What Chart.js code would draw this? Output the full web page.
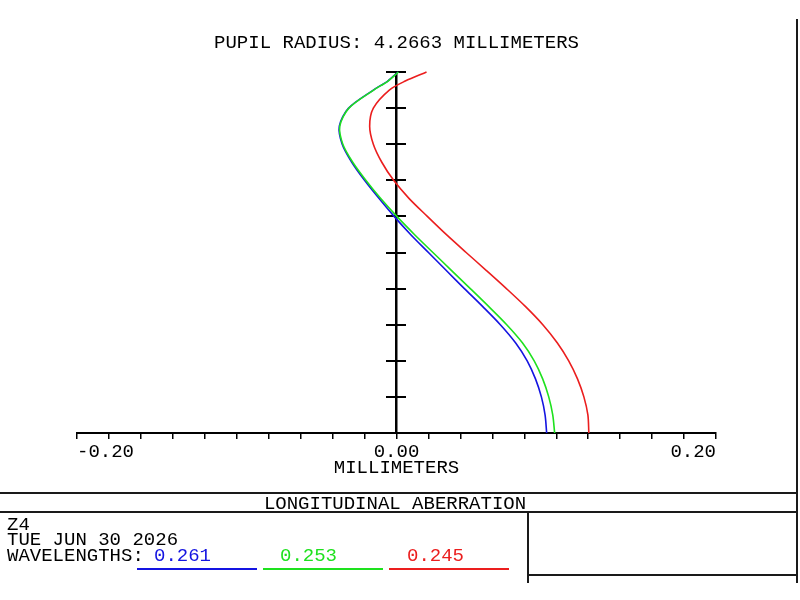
<!DOCTYPE html>
<html>
<head>
<meta charset="utf-8">
<script src="https://cdn.jsdelivr.net/npm/chart.js@4.4.1/dist/chart.umd.min.js"></script>
<style>
  html, body { margin: 0; padding: 0; background: #fff; }
  #wrap { position: relative; width: 800px; height: 600px; overflow: hidden; }
  canvas { position: absolute; left: 0; top: 0; }
  .t { position: absolute; font-family: "Liberation Mono", monospace; font-weight: normal; font-size: 19px; line-height: 19px; color: #000; white-space: pre; }
  .ln { position: absolute; background: #1a1a1a; }
</style>
</head>
<body>
<div id="wrap">
<canvas id="c" width="800" height="600"></canvas>

<div class="ln" style="left:0;top:492px;width:798px;height:2px;"></div>
<div class="t" style="left:0;width:790px;top:495px;text-align:center;">LONGITUDINAL ABERRATION</div>
<div class="ln" style="left:0;top:511px;width:798px;height:2px;"></div>
<div class="ln" style="left:527px;top:511px;width:2px;height:72px;"></div>
<div class="ln" style="left:527px;top:574px;width:270px;height:2px;"></div>
<div class="ln" style="left:796px;top:19px;width:2px;height:564px;"></div>

<div class="t" style="left:7px;top:516px;">Z4</div>
<div class="t" style="left:7px;top:531px;">TUE JUN 30 2026</div>
<div class="t" style="left:7px;top:547px;">WAVELENGTHS:</div>
<div class="t" id="w0" style="left:154px;top:547px;color:rgb(20,20,225);"></div>
<div class="t" id="w1" style="left:280px;top:547px;color:rgb(30,225,30);"></div>
<div class="t" id="w2" style="left:407px;top:547px;color:rgb(235,30,30);"></div>
<div class="ln" style="left:137px;top:568px;width:120px;height:2px;background:rgb(20,20,225);"></div>
<div class="ln" style="left:263px;top:568px;width:120px;height:2px;background:rgb(30,225,30);"></div>
<div class="ln" style="left:389px;top:568px;width:120px;height:2px;background:rgb(235,30,30);"></div>
</div>

<script>
// ---- data ----
const pupilHeights = [0, 0.05, 0.10, 0.15, 0.20, 0.25, 0.30, 0.35, 0.40, 0.45, 0.50,
                      0.55, 0.60, 0.65, 0.70, 0.75, 0.80, 0.85, 0.90, 0.95, 0.975, 1.0];

const wavelengths = ['0.261', '0.253', '0.245'];

const aberr261 = [0.0940, 0.0930, 0.0907, 0.0870, 0.0818, 0.0745, 0.0650, 0.0540, 0.0425, 0.0312, 0.0200,
                  0.0088, -0.0015, -0.0110, -0.0200, -0.0280, -0.0340, -0.0358, -0.0300, -0.0145, -0.0055, 0.0010];

const aberr253 = [0.0990, 0.0978, 0.0953, 0.0915, 0.0862, 0.0788, 0.0690, 0.0578, 0.0462, 0.0345, 0.0228,
                  0.0112, 0.0002, -0.0100, -0.0192, -0.0274, -0.0336, -0.0355, -0.0298, -0.0143, -0.0053, 0.0012];

const aberr245 = [0.1204, 0.1198, 0.1173, 0.1133, 0.1078, 0.1006, 0.0916, 0.0808, 0.0688, 0.0563, 0.0436,
                  0.0311, 0.0193, 0.0078, -0.0018, -0.0092, -0.0145, -0.0168, -0.0145, -0.0045, 0.0055, 0.0188];

const xTickLabels = ['-0.20', '0.00', '0.20'];
const titleText = 'PUPIL RADIUS: 4.2663 MILLIMETERS';
const xAxisTitle = 'MILLIMETERS';

// ---- build ----
const colors = ['rgb(20,20,225)', 'rgb(30,225,30)', 'rgb(235,30,30)'];
document.getElementById('w0').textContent = wavelengths[0];
document.getElementById('w1').textContent = wavelengths[1];
document.getElementById('w2').textContent = wavelengths[2];

function pts(arr) { return arr.map((v, i) => ({ x: v, y: pupilHeights[i] })); }

const FONT = { family: '"Liberation Mono", monospace', size: 19, weight: 'normal', lineHeight: 1.2 };

// green drawn above blue, red last listed
const series = [aberr253, aberr261, aberr245];
const seriesColor = [colors[1], colors[0], colors[2]];
const seriesLabel = [wavelengths[1], wavelengths[0], wavelengths[2]];

new Chart(document.getElementById('c'), {
  type: 'scatter',
  data: {
    datasets: series.map((s, k) => ({
      label: seriesLabel[k],
      data: pts(s),
      showLine: true,
      borderColor: seriesColor[k],
      backgroundColor: seriesColor[k],
      borderWidth: 1.6,
      pointRadius: 0,
      pointHoverRadius: 0,
      tension: 0.3,
      clip: false
    }))
  },
  options: {
    responsive: false,
    animation: false,
    events: [],
    layout: { padding: { left: 77, right: 84, top: 0, bottom: 117 } },
    plugins: {
      legend: { display: false },
      tooltip: { enabled: false },
      title: {
        display: true,
        text: titleText,
        color: '#000',
        font: FONT,
        padding: { top: 31.6, bottom: 17.6 }
      }
    },
    scales: {
      x: {
        type: 'linear',
        position: 'bottom',
        min: -0.2,
        max: 0.2,
        afterFit: (s) => { s.height = 50; },
        ticks: {
          stepSize: 0.02,
          maxTicksLimit: 30,
          autoSkip: false,
          maxRotation: 0,
          align: 'inner',
          padding: 1.6,
          color: '#000',
          font: FONT,
          callback: (v, i) => (i % 10 === 0 ? xTickLabels[i / 10] : '')
        },
        grid: { drawOnChartArea: false, drawTicks: true, tickLength: 6, color: '#000', lineWidth: 1.5 },
        border: { display: true, color: '#000', width: 2 },
        title: { display: true, text: xAxisTitle, color: '#000', font: FONT, padding: { top: 0, bottom: 3.6 } }
      },
      y: {
        type: 'linear',
        position: { x: 0 },
        min: 0,
        max: 1,
        ticks: { display: false, stepSize: 0.1 },
        grid: { drawOnChartArea: false, drawTicks: true, tickLength: 9, color: '#000', lineWidth: 2 },
        border: { display: true, color: '#000', width: 2.5 }
      },
      y2: {
        type: 'linear',
        axis: 'y',
        position: { x: 0 },
        min: 0,
        max: 1,
        ticks: { display: false, stepSize: 0.1 },
        grid: { drawOnChartArea: false, drawTicks: true, tickLength: -9, color: '#000', lineWidth: 2 },
        border: { display: false }
      }
    }
  }
});
</script>
</body>
</html>
